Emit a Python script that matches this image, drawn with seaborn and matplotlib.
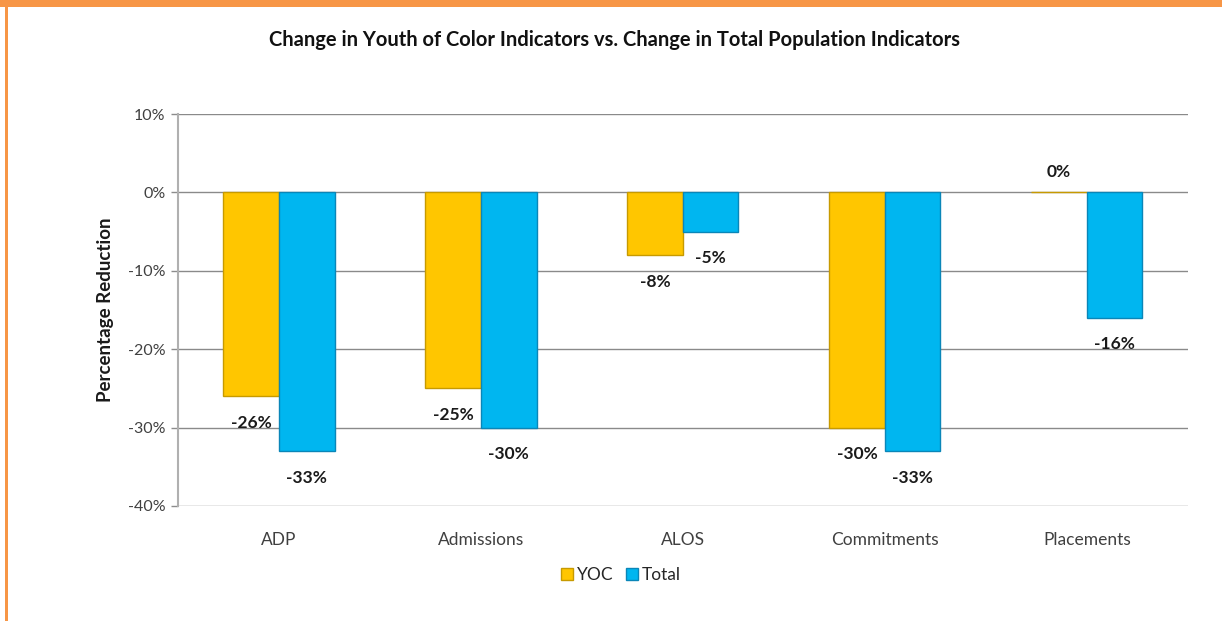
import pandas as pd
import numpy as np
import matplotlib.pyplot as plt
import seaborn as sns
from matplotlib.patches import Rectangle
from matplotlib.lines import Line2D

# data
categories = ['ADP', 'Admissions', 'ALOS', 'Commitments', 'Placements']
yoc_vals = [-26, -25, -8, -30, 0]
total_vals = [-33, -30, -5, -33, -16]
series = ['YOC', 'Total']
colors = {'YOC': '#FFC600', 'Total': '#00B6F0'}
edges = {'YOC': '#C79A00', 'Total': '#0a86b8'}

df = pd.DataFrame({
    'indicator': categories * 2,
    'series': ['YOC'] * len(categories) + ['Total'] * len(categories),
    'value': yoc_vals + total_vals,
})

sns.set_style('white')
plt.rcParams['font.family'] = ['Lato', 'DejaVu Sans']

fig = plt.figure(figsize=(12.22, 6.21), dpi=100)
ax = fig.add_axes([0.1457, 0.1852, 0.972 - 0.1457, 0.8164 - 0.1852])

sns.barplot(data=df, x='indicator', y='value', hue='series', order=categories,
            hue_order=series, palette=colors, saturation=1, width=0.55, ax=ax,
            legend=False, zorder=3)

# bar edges
for container, s in zip(ax.containers, series):
    for p in container:
        p.set_edgecolor(edges[s])
        p.set_linewidth(1.0)

# value labels under (or above) each bar end
for container in ax.containers:
    for p in container:
        h = p.get_height()
        val = p.get_y() + h if h < 0 else h
        xc = p.get_x() + p.get_width() / 2
        dy = -19 if val < 0 else 15
        ax.annotate(f'{val:.0f}%', (xc, val), xytext=(0, dy), textcoords='offset points',
                    ha='center', va='center', fontsize=12.5, fontweight='bold', color='#1a1a1a')

ax.set_ylim(-40, 10)
ax.set_yticks(range(-40, 11, 10))
ax.set_yticklabels([f'{t}%' for t in range(-40, 11, 10)], fontsize=11.5, color='#404040')
ax.tick_params(axis='y', length=5, color='#8c8c8c', width=1, pad=4, direction='out', left=True)
ax.tick_params(axis='x', length=0, labelsize=12.5, labelcolor='#404040', pad=19)
ax.set_xlim(-0.5, len(categories) - 0.5)
ax.yaxis.grid(True, color='#8a8a8a', linewidth=1)
ax.set_axisbelow(True)
for side in ['top', 'right', 'bottom']:
    ax.spines[side].set_visible(False)
ax.spines['left'].set_color('#b0b0b0')
ax.spines['left'].set_linewidth(1.5)

ax.set_xlabel('')
ax.set_ylabel('Percentage Reduction', fontsize=13.5, fontweight='bold', color='#1a1a1a', labelpad=10)

fig.text(0.503, 0.935, 'Change in Youth of Color Indicators vs. Change in Total Population Indicators',
         ha='center', va='center', fontsize=14.5, fontweight='bold', color='#111111')

handles = [Line2D([], [], marker='s', linestyle='', markersize=9,
                  markerfacecolor=colors[s], markeredgecolor=edges[s]) for s in series]
fig.legend(handles, series, loc='center', bbox_to_anchor=(0.507, 0.074), ncol=2, frameon=False,
           fontsize=12.5, handletextpad=0.05, columnspacing=0.6, handlelength=1.0)

# orange frame
fig.patches.append(Rectangle((0, 1 - 7 / 621), 1, 7 / 621, transform=fig.transFigure,
                             facecolor='#F79646', edgecolor='none'))
fig.patches.append(Rectangle((5 / 1222, 0), 2.5 / 1222, 1, transform=fig.transFigure,
                             facecolor='#F79646', edgecolor='none'))

fig.savefig('out.png', dpi=100)
